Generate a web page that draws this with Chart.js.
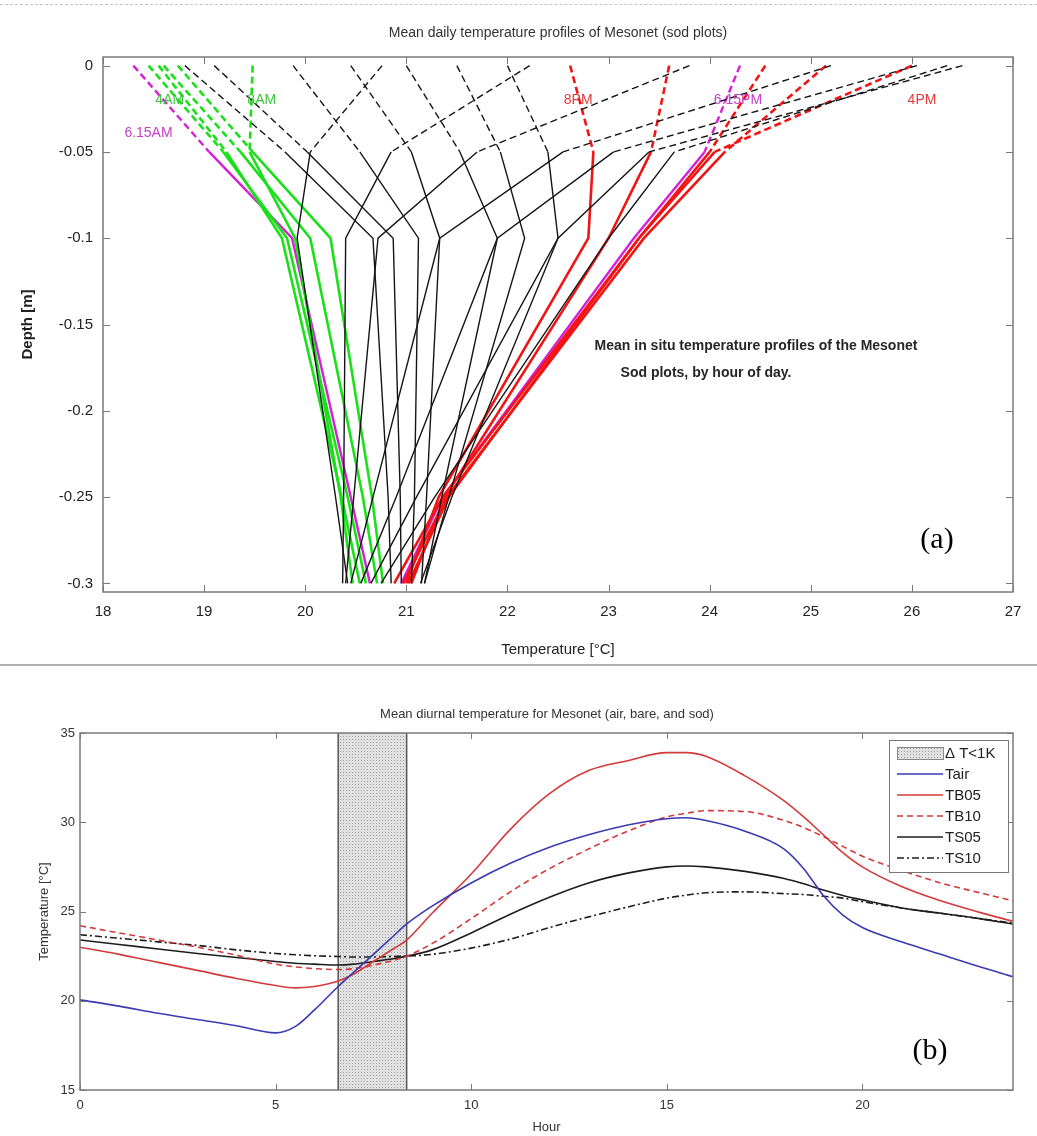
<!DOCTYPE html>
<html lang="en">
<head>
<meta charset="UTF-8">
<title>Mesonet temperature profiles</title>
<script src="https://cdn.jsdelivr.net/npm/chart.js"></script>
<style>
    body { margin: 0; background: #fff; width: 1037px; height: 1136px; position: relative; overflow: hidden; }
    #topRule { position: absolute; left: 0; top: 4px; width: 1037px; border-top: 1px dashed #c4c4c4; }
    #midRule { position: absolute; left: 0; top: 664px; width: 1037px; border-top: 2px solid #b0b0b0; }
    #profileChart { position: absolute; left: 0; top: 0; }
    #diurnalChart { position: absolute; left: 0; top: 666px; }
</style>
</head>
<body>
<div id="topRule"></div>
<canvas id="profileChart" width="1037" height="664"></canvas>
<div id="midRule"></div>
<canvas id="diurnalChart" width="1037" height="470"></canvas>
<script>
    // ---- (a) sod-plot temperature profiles ----
    // sensor depths [m]
    const depths = [0, -0.05, -0.1, -0.25, -0.3];
    const depthTicks = [0, -0.05, -0.1, -0.15, -0.2, -0.25, -0.3];

    // mean temperature at each depth, by hour of day [°C]
    const t4am   = [18.74, 19.48, 20.25, 20.66, 20.77];
    const t5am   = [18.60, 19.36, 20.05, 20.57, 20.71];
    const t6am   = [18.45, 19.19, 19.82, 20.42, 20.60];
    const t615am = [18.30, 19.05, 19.87, 20.45, 20.64];
    const t7am   = [18.55, 19.22, 19.77, 20.36, 20.54];
    const t8am   = [19.48, 19.45, 19.90, 20.35, 20.47];
    const t9am   = [20.76, 20.05, 19.92, 20.30, 20.42];
    const t10am  = [22.22, 20.85, 20.40, 20.38, 20.37];
    const t11am  = [23.80, 21.70, 20.72, 20.48, 20.40];
    const t12pm  = [25.20, 22.55, 21.33, 20.67, 20.45];
    const t1pm   = [26.05, 23.05, 21.90, 20.90, 20.55];
    const t2pm   = [26.50, 23.40, 22.50, 21.10, 20.65];
    const t3pm   = [26.35, 23.65, 23.00, 21.28, 20.75];
    const t4pm   = [26.00, 24.05, 23.30, 21.36, 20.88];
    const t5pm   = [25.15, 24.15, 23.35, 21.40, 20.97];
    const t6pm   = [24.55, 24.00, 23.30, 21.42, 21.02];
    const t615pm = [24.30, 23.95, 23.25, 21.36, 20.95];
    const t7pm   = [23.60, 23.42, 23.00, 21.38, 21.05];
    const t8pm   = [22.62, 22.85, 22.80, 21.32, 21.00];
    const t9pm   = [22.00, 22.40, 22.50, 21.45, 21.14];
    const t10pm  = [21.50, 21.93, 22.17, 21.42, 21.18];
    const t11pm  = [21.00, 21.53, 21.90, 21.35, 21.18];
    const t12am  = [20.45, 21.05, 21.33, 21.20, 21.15];
    const t1am   = [19.88, 20.54, 21.12, 21.08, 21.05];
    const t2am   = [19.10, 20.02, 20.87, 20.94, 20.95];
    const t3am   = [18.81, 19.80, 20.67, 20.82, 20.85];

    // ---- (b) mean diurnal temperature ----
    const hours = [0, 1, 2, 3, 4, 5, 5.5, 6, 6.6, 7, 7.5, 8, 8.35, 9, 10, 11, 12, 13, 14, 15, 15.5, 16, 17, 18, 18.5, 19, 19.5, 20, 21, 22, 23, 23.85];
    const tAir = [20.05, 19.7, 19.3, 18.95, 18.6, 18.2, 18.55, 19.5, 20.8, 21.6, 22.6, 23.6, 24.3, 25.3, 26.6, 27.7, 28.6, 29.3, 29.85, 30.2, 30.25, 30.1, 29.5, 28.5, 27.4, 25.9, 24.8, 24.1, 23.3, 22.6, 21.9, 21.35];
    const tb05 = [23.0, 22.6, 22.15, 21.7, 21.25, 20.85, 20.72, 20.8, 21.1, 21.5, 22.2, 22.9, 23.4, 24.9, 27.1, 29.6, 31.6, 32.9, 33.45, 33.9, 33.9, 33.7, 32.6, 31.2, 30.3, 29.3, 28.3, 27.5, 26.4, 25.6, 24.95, 24.45];
    const tb10 = [24.2, 23.8, 23.4, 23.0, 22.55, 22.05, 21.9, 21.8, 21.75, 21.8, 22.0, 22.25, 22.5, 23.2, 24.6, 26.1, 27.4, 28.5, 29.5, 30.3, 30.5, 30.65, 30.6, 30.1, 29.7, 29.2, 28.65, 28.1, 27.3, 26.6, 26.05, 25.6];
    const ts05 = [23.4, 23.15, 22.9, 22.65, 22.42, 22.2, 22.1, 22.05, 22.0, 22.05, 22.2, 22.35, 22.5, 22.85, 23.8, 24.85, 25.8, 26.6, 27.15, 27.5, 27.55, 27.5, 27.25, 26.85, 26.55, 26.2, 25.9, 25.65, 25.2, 24.9, 24.6, 24.3];
    const ts10 = [23.7, 23.5, 23.3, 23.1, 22.85, 22.65, 22.58, 22.52, 22.48, 22.45, 22.45, 22.48, 22.5, 22.6, 22.95, 23.45, 24.1, 24.7, 25.25, 25.75, 25.92, 26.05, 26.1, 26.0, 25.95, 25.85, 25.75, 25.55, 25.2, 24.9, 24.6, 24.35];
    const hourTicks = [0, 5, 10, 15, 20];
    // hours where the air/soil difference is below 1 K
    const calmStart = 6.6;
    const calmEnd = 8.35;

    const SANS = "'Liberation Sans', Arial, sans-serif";
    const SERIF = "'Liberation Serif', 'Times New Roman', serif";

    const lineStyles = {
        night: { color: '#151515', width: 1.4 },
        morning: { color: '#19e019', width: 2.6 },
        dawn: { color: '#d61fd6', width: 2.4 },
        afternoon: { color: '#f21414', width: 2.6 }
    };

    // drawing order: black first, coloured profiles on top
    const profiles = [
        { label: '9AM', temps: t9am, group: 'night' },
        { label: '10AM', temps: t10am, group: 'night' },
        { label: '11AM', temps: t11am, group: 'night' },
        { label: '12PM', temps: t12pm, group: 'night' },
        { label: '1PM', temps: t1pm, group: 'night' },
        { label: '2PM', temps: t2pm, group: 'night' },
        { label: '3PM', temps: t3pm, group: 'night' },
        { label: '9PM', temps: t9pm, group: 'night' },
        { label: '10PM', temps: t10pm, group: 'night' },
        { label: '11PM', temps: t11pm, group: 'night' },
        { label: '12AM', temps: t12am, group: 'night' },
        { label: '1AM', temps: t1am, group: 'night' },
        { label: '2AM', temps: t2am, group: 'night' },
        { label: '3AM', temps: t3am, group: 'night' },
        { label: '4AM', temps: t4am, group: 'morning' },
        { label: '5AM', temps: t5am, group: 'morning' },
        { label: '6AM', temps: t6am, group: 'morning' },
        { label: '7AM', temps: t7am, group: 'morning' },
        { label: '8AM', temps: t8am, group: 'morning' },
        { label: '6.15AM', temps: t615am, group: 'dawn' },
        { label: '4PM', temps: t4pm, group: 'afternoon' },
        { label: '5PM', temps: t5pm, group: 'afternoon' },
        { label: '6PM', temps: t6pm, group: 'afternoon' },
        { label: '7PM', temps: t7pm, group: 'afternoon' },
        { label: '8PM', temps: t8pm, group: 'afternoon' },
        { label: '6.15PM', temps: t615pm, group: 'dawn' }
    ];

    // hour tags written next to the profiles (temperature, depth)
    const hourTags = [
        { text: '4AM', x: 18.66, y: -0.020, color: '#3fc43f' },
        { text: '8AM', x: 19.57, y: -0.020, color: '#3fc43f' },
        { text: '6.15AM', x: 18.45, y: -0.039, color: '#c940c9' },
        { text: '8PM', x: 22.70, y: -0.020, color: '#e23a3a' },
        { text: '6.15PM', x: 24.28, y: -0.020, color: '#c940c9' },
        { text: '4PM', x: 26.10, y: -0.020, color: '#e23a3a' }
    ];

    // box with inward ticks on all four sides
    const frameTicks = {
        id: 'frameTicks',
        afterDatasetsDraw(chart, args, opts) {
            const { ctx, chartArea: a, scales: { x, y } } = chart;
            const len = opts.length;
            ctx.save();
            ctx.strokeStyle = opts.color;
            ctx.lineWidth = 1;
            ctx.beginPath();
            x.ticks.forEach(t => {
                const px = Math.round(x.getPixelForValue(t.value)) + 0.5;
                ctx.moveTo(px, a.bottom); ctx.lineTo(px, a.bottom - len);
                ctx.moveTo(px, a.top); ctx.lineTo(px, a.top + len);
            });
            y.ticks.forEach(t => {
                const py = Math.round(y.getPixelForValue(t.value)) + 0.5;
                ctx.moveTo(a.left, py); ctx.lineTo(a.left + len, py);
                ctx.moveTo(a.right, py); ctx.lineTo(a.right - len, py);
            });
            ctx.stroke();
            ctx.lineWidth = 1.5;
            ctx.strokeRect(a.left, a.top, a.right - a.left, a.bottom - a.top);
            ctx.restore();
        }
    };

    const profileText = {
        id: 'profileText',
        afterDraw(chart) {
            const { ctx, chartArea: a, scales: { x, y } } = chart;
            ctx.save();
            ctx.textAlign = 'center';
            ctx.textBaseline = 'middle';
            ctx.fillStyle = '#333';
            ctx.font = '14px ' + SANS;
            ctx.fillText('Mean daily temperature profiles of Mesonet (sod plots)', (a.left + a.right) / 2, 33);
            ctx.font = '14px ' + SANS;
            hourTags.forEach(t => {
                ctx.fillStyle = t.color;
                ctx.fillText(t.text, x.getPixelForValue(t.x), y.getPixelForValue(t.y));
            });
            ctx.fillStyle = '#262626';
            ctx.font = 'bold 14px ' + SANS;
            ctx.fillText('Mean in situ temperature profiles of the Mesonet', 756, 346);
            ctx.fillText('Sod plots, by hour of day.', 706, 373);
            ctx.fillStyle = '#000';
            ctx.font = '30px ' + SERIF;
            ctx.fillText('(a)', 937, 540);
            ctx.restore();
        }
    };

    new Chart(document.getElementById('profileChart'), {
        type: 'scatter',
        data: {
            datasets: profiles.map(p => ({
                label: p.label,
                data: depths.map((d, i) => ({ x: p.temps[i], y: d })),
                showLine: true,
                borderColor: lineStyles[p.group].color,
                borderWidth: lineStyles[p.group].width,
                pointRadius: 0,
                tension: 0,
                // the surface-to-5cm segment is drawn dashed
                segment: { borderDash: ctx => ctx.p0DataIndex === 0 ? [7, 4] : undefined }
            }))
        },
        options: {
            responsive: false,
            animation: false,
            layout: { padding: { top: 57, right: 24, left: 0, bottom: 0 } },
            plugins: {
                legend: { display: false },
                tooltip: { enabled: false },
                frameTicks: { color: '#7a7a7a', length: 7 }
            },
            scales: {
                x: {
                    type: 'linear', min: 18, max: 27,
                    grid: { display: false, drawTicks: false },
                    border: { display: false },
                    ticks: { stepSize: 1, padding: 11, color: '#222', font: { family: SANS, size: 15 } },
                    title: { display: true, text: 'Temperature [°C]', color: '#222', font: { family: SANS, size: 15 }, padding: { top: 0, bottom: 5 } },
                    afterFit: s => { s.height = 72; }
                },
                y: {
                    type: 'linear', min: -0.305, max: 0.005,
                    grid: { display: false, drawTicks: false },
                    border: { display: false },
                    afterBuildTicks: s => { s.ticks = depthTicks.map(v => ({ value: v })); },
                    ticks: { padding: 10, color: '#222', font: { family: SANS, size: 15 }, callback: v => String(+v.toFixed(2)) },
                    title: { display: true, text: 'Depth [m]', color: '#222', font: { family: SANS, size: 15, weight: 'bold' }, padding: { top: 19, bottom: 0 } },
                    afterFit: s => { s.width = 103; }
                }
            }
        },
        plugins: [frameTicks, profileText]
    });

    // dotted grey fill for the ΔT<1K band
    function dotPattern(ctx) {
        const c = document.createElement('canvas');
        c.width = 3; c.height = 3;
        const g = c.getContext('2d');
        g.fillStyle = '#e0e0e0';
        g.fillRect(0, 0, 3, 3);
        g.fillStyle = '#a0a0a0';
        g.fillRect(1, 1, 1, 1);
        return ctx.createPattern(c, 'repeat');
    }

    const calmBand = {
        id: 'calmBand',
        beforeDatasetsDraw(chart) {
            const { ctx, chartArea: a, scales: { x } } = chart;
            const x0 = x.getPixelForValue(calmStart);
            const x1 = x.getPixelForValue(calmEnd);
            ctx.save();
            ctx.fillStyle = dotPattern(ctx);
            ctx.fillRect(x0, a.top, x1 - x0, a.bottom - a.top);
            ctx.strokeStyle = '#555';
            ctx.lineWidth = 1.5;
            ctx.beginPath();
            ctx.moveTo(x0, a.top); ctx.lineTo(x0, a.bottom);
            ctx.moveTo(x1, a.top); ctx.lineTo(x1, a.bottom);
            ctx.stroke();
            ctx.restore();
        }
    };

    const diurnalText = {
        id: 'diurnalText',
        afterDraw(chart) {
            const { ctx, chartArea: a } = chart;
            ctx.save();
            ctx.textAlign = 'center';
            ctx.textBaseline = 'middle';
            ctx.fillStyle = '#333';
            ctx.font = '13px ' + SANS;
            ctx.fillText('Mean diurnal temperature for Mesonet (air, bare, and sod)', 547, 48);

            // legend box in the upper right corner
            const bx = a.right - 124, by = a.top + 7, bw = 119, bh = 132;
            ctx.fillStyle = '#fff';
            ctx.fillRect(bx, by, bw, bh);
            ctx.strokeStyle = '#777';
            ctx.lineWidth = 1;
            ctx.strokeRect(bx + 0.5, by + 0.5, bw, bh);
            const rowY = i => by + 13 + i * 21;
            const sx0 = bx + 8, sx1 = bx + 54;
            ctx.fillStyle = dotPattern(ctx);
            ctx.fillRect(sx0, rowY(0) - 6, sx1 - sx0, 12);
            ctx.strokeStyle = '#888';
            ctx.strokeRect(sx0 + 0.5, rowY(0) - 5.5, sx1 - sx0, 12);
            ctx.textAlign = 'left';
            ctx.fillStyle = '#222';
            ctx.font = '15px ' + SANS;
            ctx.fillText('\u0394 T<1K', sx1 + 2, rowY(0) + 1);
            chart.data.datasets.forEach((ds, i) => {
                const yy = rowY(i + 1);
                ctx.strokeStyle = ds.borderColor;
                ctx.lineWidth = ds.borderWidth;
                ctx.setLineDash(ds.borderDash || []);
                ctx.beginPath();
                ctx.moveTo(sx0, yy); ctx.lineTo(sx1, yy);
                ctx.stroke();
                ctx.setLineDash([]);
                ctx.fillStyle = '#222';
                ctx.fillText(ds.label, sx1 + 2, yy + 1);
            });

            ctx.textAlign = 'center';
            ctx.fillStyle = '#000';
            ctx.font = '30px ' + SERIF;
            ctx.fillText('(b)', 930, 385);
            ctx.restore();
        }
    };

    const diurnalSeries = [
        { label: 'Tair', values: tAir, color: '#3a3ab4', dash: [] },
        { label: 'TB05', values: tb05, color: '#d43a3a', dash: [] },
        { label: 'TB10', values: tb10, color: '#d43a3a', dash: [6, 4] },
        { label: 'TS05', values: ts05, color: '#1e1e1e', dash: [] },
        { label: 'TS10', values: ts10, color: '#1e1e1e', dash: [7, 3, 2, 3] }
    ];

    new Chart(document.getElementById('diurnalChart'), {
        type: 'scatter',
        data: {
            datasets: diurnalSeries.map(s => ({
                label: s.label,
                data: hours.map((h, i) => ({ x: h, y: s.values[i] })),
                showLine: true,
                borderColor: s.color,
                borderWidth: 1.6,
                borderDash: s.dash,
                pointRadius: 0,
                cubicInterpolationMode: 'monotone'
            }))
        },
        options: {
            responsive: false,
            animation: false,
            layout: { padding: { top: 67, right: 24, left: 0, bottom: 0 } },
            plugins: {
                legend: { display: false },
                tooltip: { enabled: false },
                frameTicks: { color: '#7a7a7a', length: 6 }
            },
            scales: {
                x: {
                    type: 'linear', min: 0, max: 23.85,
                    grid: { display: false, drawTicks: false },
                    border: { display: false },
                    afterBuildTicks: s => { s.ticks = hourTicks.map(v => ({ value: v })); },
                    ticks: { padding: 8, color: '#333', font: { family: SANS, size: 13 } },
                    title: { display: true, text: 'Hour', color: '#333', font: { family: SANS, size: 13 }, padding: { top: 0, bottom: 1 } },
                    afterFit: s => { s.height = 46; }
                },
                y: {
                    type: 'linear', min: 15, max: 35,
                    grid: { display: false, drawTicks: false },
                    border: { display: false },
                    ticks: { stepSize: 5, padding: 5, color: '#333', font: { family: SANS, size: 13 } },
                    title: { display: true, text: 'Temperature [°C]', color: '#333', font: { family: SANS, size: 13 }, padding: { top: 37, bottom: 0 } },
                    afterFit: s => { s.width = 80; }
                }
            }
        },
        plugins: [calmBand, frameTicks, diurnalText]
    });
</script>
</body>
</html>
